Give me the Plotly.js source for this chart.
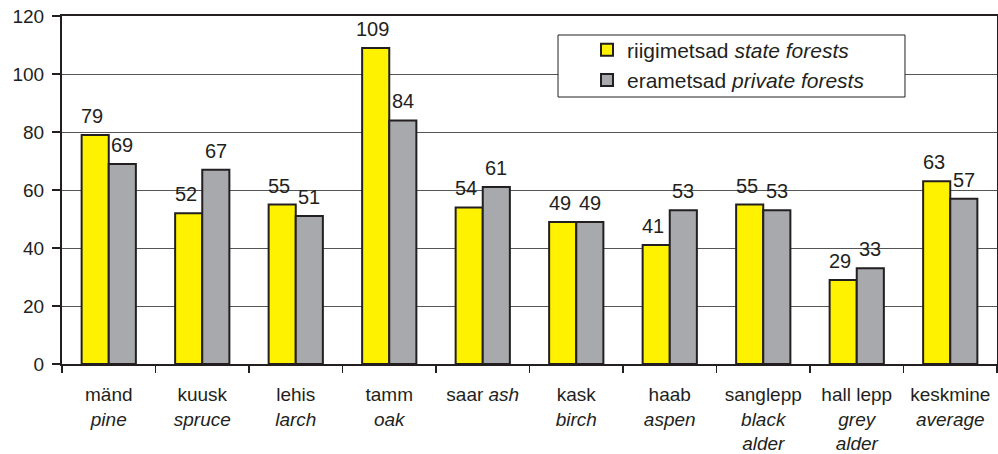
<!DOCTYPE html>
<html><head><meta charset="utf-8">
<script src="https://cdn.plot.ly/plotly-3.0.1.min.js"></script>
<style>html,body{margin:0;padding:0;background:#fff;}#chart{width:998px;height:454px;}</style>
</head><body><div id="chart"></div>
<script>
const categories = ["mänd<br><i>pine</i>", "kuusk<br><i>spruce</i>", "lehis<br><i>larch</i>", "tamm<br><i>oak</i>", "saar <i>ash</i>", "kask<br><i>birch</i>", "haab<br><i>aspen</i>", "sanglepp<br><i>black</i><br><i>alder</i>", "hall lepp<br><i>grey</i><br><i>alder</i>", "keskmine<br><i>average</i>"];
const stateForests = [79, 52, 55, 109, 54, 49, 41, 55, 29, 63];
const privateForests = [69, 67, 51, 84, 61, 49, 53, 53, 33, 57];
const seriesNames = ["riigimetsad <i>state forests</i>", "erametsad <i>private forests</i>"];
const yTicks = [0, 20, 40, 60, 80, 100, 120];

const txt = '#231f20';
const family = 'Liberation Sans, Arial, sans-serif';
const tickFont = {family: family, size: 19, color: txt};
const labelFont = {family: family, size: 20, color: txt};
const legendFont = {family: family, size: 21, color: txt};
const mk = (c) => ({color: c, line: {color: txt, width: 2}});

const data = [
  {type: 'bar', x: categories, y: stateForests, name: seriesNames[0], marker: mk('#fff200')},
  {type: 'bar', x: categories, y: privateForests, name: seriesNames[1], marker: mk('#a7a9ac')}
];

function valueLabels(vals, shift) {
  return vals.map((v, i) => ({
    x: categories[i], y: v, xref: 'x', yref: 'y', text: String(v), showarrow: false,
    xanchor: 'center', yanchor: 'bottom', xshift: shift, yshift: 6, font: labelFont
  }));
}

const layout = {
  width: 998, height: 454,
  margin: {l: 62, r: 1, t: 16, b: 90},
  paper_bgcolor: '#fff', plot_bgcolor: '#fff',
  font: tickFont,
  barmode: 'group', bargap: 0.42, bargroupgap: 0,
  showlegend: true,
  legend: {x: 0.5615, y: 0.9610, xanchor: 'left', yanchor: 'top', bgcolor: 'rgba(0,0,0,0)',
           borderwidth: 0, font: legendFont, tracegroupgap: 0},
  shapes: [{type: 'rect', xref: 'paper', yref: 'paper', x0: 0.5305, x1: 0.9016, y0: 0.7672, y1: 0.9454,
            fillcolor: '#fff', line: {color: txt, width: 1}, layer: 'above'}],
  annotations: valueLabels(stateForests, -16.5).concat(valueLabels(privateForests, 13.6)),
  xaxis: {type: 'category', showline: true, linecolor: txt, linewidth: 2, mirror: true,
          ticks: 'outside', tickson: 'boundaries', ticklen: 7, tickwidth: 1.5, tickcolor: txt,
          tickangle: 0, automargin: false,
          showgrid: false, tickfont: tickFont, fixedrange: true, ticklabelstandoff: 12},
  yaxis: {range: [0, 120], tickvals: yTicks, ticktext: yTicks.map(String),
          showline: true, linecolor: txt, linewidth: 2, mirror: true,
          ticks: 'outside', ticklen: 8, tickwidth: 1.5, tickcolor: txt,
          showgrid: true, gridcolor: '#555', gridwidth: 1, zeroline: false,
          tickfont: tickFont, fixedrange: true, ticklabelstandoff: 4}
};

Plotly.newPlot('chart', data, layout, {displayModeBar: false, staticPlot: true});
</script></body></html>
